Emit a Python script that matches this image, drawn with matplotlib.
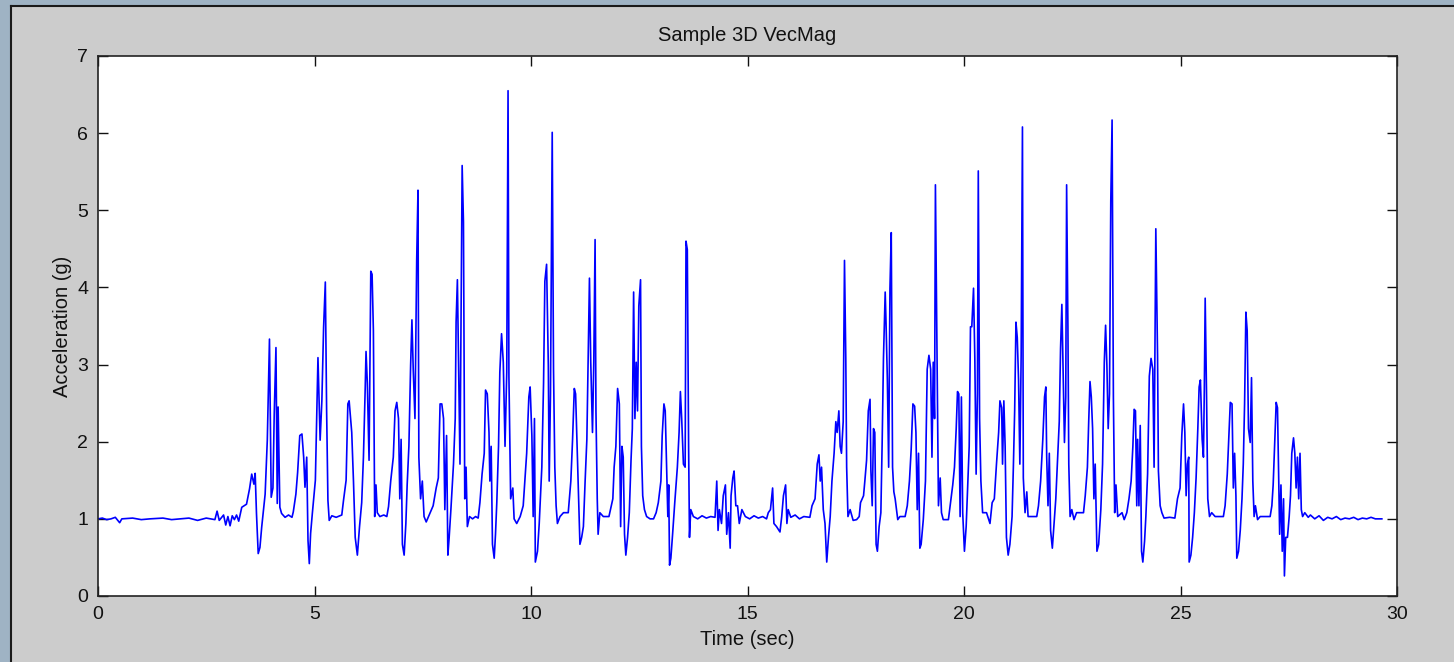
import matplotlib
matplotlib.use("Agg")
import matplotlib.pyplot as plt
from matplotlib.patches import Rectangle
from matplotlib.lines import Line2D

# ---- data ----
time_sec = [
    0.0, 0.1, 0.2, 0.3, 0.4, 0.5, 0.55, 0.8, 1.0, 1.2, 1.5, 1.7, 1.9, 2.1, 2.3, 2.5, 2.7,
    2.75, 2.8, 2.9, 2.95, 3.0, 3.05, 3.1, 3.15, 3.2, 3.25, 3.32, 3.43, 3.5, 3.55, 3.6, 3.63,
    3.66, 3.7, 3.74, 3.78, 3.86, 3.91, 3.96, 4.0, 4.04, 4.07, 4.11, 4.14, 4.16, 4.2, 4.24,
    4.32, 4.4, 4.48, 4.51, 4.57, 4.61, 4.66, 4.71, 4.75, 4.78, 4.82, 4.85, 4.88, 4.91, 4.95,
    5.02, 5.08, 5.13, 5.17, 5.21, 5.25, 5.28, 5.31, 5.34, 5.4, 5.5, 5.63, 5.67, 5.73, 5.77,
    5.8, 5.86, 5.9, 5.94, 5.99, 6.04, 6.09, 6.13, 6.17, 6.19, 6.22, 6.26, 6.3, 6.33, 6.36,
    6.39, 6.42, 6.45, 6.51, 6.6, 6.67, 6.71, 6.76, 6.82, 6.86, 6.9, 6.94, 6.97, 7.0, 7.03,
    7.07, 7.11, 7.14, 7.18, 7.22, 7.25, 7.28, 7.32, 7.36, 7.39, 7.41, 7.45, 7.49, 7.53, 7.58,
    7.67, 7.74, 7.81, 7.86, 7.9, 7.94, 7.98, 8.01, 8.05, 8.08, 8.11, 8.15, 8.21, 8.25, 8.27,
    8.3, 8.33, 8.36, 8.38, 8.41, 8.44, 8.47, 8.5, 8.53, 8.58, 8.65, 8.72, 8.78, 8.82, 8.87,
    8.92, 8.95, 8.99, 9.03, 9.05, 9.08, 9.11, 9.15, 9.18, 9.21, 9.25, 9.28, 9.32, 9.36, 9.4,
    9.44, 9.47, 9.49, 9.53, 9.58, 9.61, 9.67, 9.75, 9.82, 9.9, 9.95, 9.98, 10.02, 10.05,
    10.08, 10.1, 10.15, 10.19, 10.25, 10.29, 10.32, 10.36, 10.4, 10.42, 10.45, 10.49, 10.52,
    10.55, 10.58, 10.61, 10.67, 10.75, 10.86, 10.92, 10.96, 11.0, 11.03, 11.06, 11.09, 11.13,
    11.17, 11.21, 11.25, 11.29, 11.32, 11.35, 11.38, 11.42, 11.45, 11.48, 11.5, 11.53, 11.55,
    11.59, 11.67, 11.8, 11.89, 11.92, 11.96, 12.0, 12.04, 12.07, 12.1, 12.13, 12.16, 12.19,
    12.23, 12.27, 12.31, 12.34, 12.37, 12.4, 12.43, 12.46, 12.49, 12.53, 12.55, 12.58, 12.62,
    12.67, 12.75, 12.83, 12.89, 12.94, 13.0, 13.03, 13.07, 13.1, 13.13, 13.16, 13.18, 13.2,
    13.23, 13.27, 13.32, 13.38, 13.42, 13.45, 13.48, 13.52, 13.56, 13.58, 13.61, 13.64, 13.66,
    13.69, 13.75, 13.85, 13.95, 14.05, 14.15, 14.25, 14.29, 14.32, 14.35, 14.4, 14.44, 14.49,
    14.52, 14.56, 14.6, 14.62, 14.66, 14.69, 14.73, 14.77, 14.81, 14.87, 14.95, 15.05, 15.15,
    15.25, 15.35, 15.44, 15.48, 15.53, 15.58, 15.61, 15.67, 15.75, 15.79, 15.83, 15.88, 15.91,
    15.94, 16.0, 16.1, 16.2, 16.3, 16.44, 16.49, 16.56, 16.61, 16.65, 16.68, 16.71, 16.75,
    16.79, 16.83, 16.87, 16.91, 16.95, 17.0, 17.04, 17.07, 17.11, 17.14, 17.17, 17.21, 17.24,
    17.27, 17.29, 17.32, 17.37, 17.44, 17.52, 17.58, 17.61, 17.68, 17.71, 17.75, 17.79, 17.83,
    17.85, 17.88, 17.91, 17.94, 17.97, 18.0, 18.04, 18.08, 18.11, 18.14, 18.18, 18.2, 18.23,
    18.26, 18.29, 18.32, 18.35, 18.38, 18.41, 18.47, 18.52, 18.64, 18.69, 18.74, 18.78, 18.82,
    18.86, 18.89, 18.92, 18.95, 18.98, 19.01, 19.06, 19.11, 19.15, 19.19, 19.23, 19.26, 19.29,
    19.32, 19.34, 19.38, 19.41, 19.45, 19.48, 19.52, 19.64, 19.69, 19.74, 19.78, 19.82, 19.85,
    19.88, 19.91, 19.94, 19.97, 20.01, 20.05, 20.09, 20.12, 20.15, 20.18, 20.22, 20.25, 20.28,
    20.31, 20.33, 20.36, 20.39, 20.43, 20.52, 20.6, 20.65, 20.7, 20.75, 20.8, 20.83, 20.87,
    20.89, 20.92, 20.95, 20.98, 21.02, 21.06, 21.11, 21.14, 21.17, 21.2, 21.23, 21.26, 21.29,
    21.32, 21.35, 21.37, 21.41, 21.45, 21.48, 21.6, 21.68, 21.72, 21.77, 21.82, 21.86, 21.89,
    21.91, 21.94, 21.97, 22.0, 22.04, 22.08, 22.12, 22.17, 22.2, 22.23, 22.26, 22.29, 22.32,
    22.35, 22.37, 22.4, 22.42, 22.45, 22.49, 22.54, 22.6, 22.76, 22.8, 22.85, 22.88, 22.91,
    22.94, 22.97, 23.0, 23.03, 23.07, 23.11, 23.16, 23.2, 23.24, 23.27, 23.3, 23.33, 23.36,
    23.39, 23.42, 23.45, 23.48, 23.51, 23.55, 23.65, 23.7, 23.76, 23.81, 23.86, 23.9, 23.93,
    23.96, 23.99, 24.01, 24.04, 24.07, 24.1, 24.13, 24.17, 24.2, 24.24, 24.28, 24.32, 24.36,
    24.39, 24.41, 24.43, 24.47, 24.49, 24.53, 24.57, 24.62, 24.75, 24.87, 24.93, 24.99, 25.03,
    25.07, 25.1, 25.13, 25.16, 25.19, 25.2, 25.24, 25.28, 25.32, 25.36, 25.4, 25.43, 25.46,
    25.5, 25.53, 25.55, 25.57, 25.6, 25.63, 25.67, 25.72, 25.8, 25.99, 26.03, 26.08, 26.12,
    26.15, 26.19, 26.22, 26.25, 26.28, 26.3, 26.34, 26.38, 26.42, 26.45, 26.48, 26.51, 26.54,
    26.57, 26.61, 26.64, 26.67, 26.7, 26.73, 26.78, 26.84, 27.07, 27.11, 27.14, 27.18, 27.21,
    27.24, 27.27, 27.29, 27.32, 27.35, 27.38, 27.4, 27.43, 27.47, 27.51, 27.54, 27.57, 27.61,
    27.64, 27.67, 27.7, 27.73, 27.76, 27.79, 27.82, 27.87, 27.95, 28.0, 28.1, 28.2, 28.3,
    28.4, 28.5, 28.6, 28.7, 28.8, 28.9, 29.0, 29.1, 29.2, 29.3, 29.4, 29.5, 29.65,
]

accel_g = [
    1.0, 1.01, 0.99, 1.0, 1.02, 0.95, 1.0, 1.01, 0.99, 1.0, 1.01, 0.99, 1.0, 1.01, 0.98, 1.01, 0.99,
    1.1, 0.98, 1.05, 0.92, 1.03, 0.91, 1.04, 0.99, 1.05, 0.97, 1.15, 1.19, 1.39, 1.58, 1.45, 1.59,
    1.07, 0.55, 0.63, 0.89, 1.32, 2.02, 3.33, 1.28, 1.4, 2.36, 3.22, 1.2, 2.45, 1.15, 1.07,
    1.02, 1.05, 1.02, 1.09, 1.32, 1.6, 2.08, 2.1, 1.8, 1.41, 1.8, 0.72, 0.42, 0.81, 1.07,
    1.5, 3.09, 2.02, 2.53, 3.48, 4.07, 2.4, 1.24, 0.98, 1.04, 1.02, 1.05, 1.24, 1.5, 2.49,
    2.53, 2.12, 1.49, 0.76, 0.53, 0.9, 1.21, 1.8, 2.67, 3.17, 2.76, 1.76, 4.21, 4.17, 3.44,
    1.03, 1.44, 1.08, 1.03, 1.05, 1.03, 1.16, 1.49, 1.8, 2.4, 2.51, 2.3, 1.26, 2.03, 0.67,
    0.53, 0.94, 1.44, 1.94, 2.99, 3.58, 2.94, 2.3, 4.35, 5.26, 1.8, 1.26, 1.49, 1.03, 0.96,
    1.08, 1.17, 1.4, 1.53, 2.49, 2.49, 2.3, 1.12, 2.08, 0.53, 0.76, 1.12, 1.71, 2.3, 3.55,
    4.1, 2.94, 1.71, 3.21, 5.58, 4.85, 1.26, 1.67, 0.9, 1.03, 1.0, 1.03, 1.01, 1.21, 1.58,
    1.85, 2.67, 2.62, 2.12, 1.49, 1.94, 0.67, 0.49, 0.8, 1.21, 1.94, 2.9, 3.4, 3.03, 1.94,
    2.9, 6.55, 2.85, 1.26, 1.4, 1.0, 0.94, 1.03, 1.17, 1.85, 2.58, 2.71, 2.08, 1.03,
    2.3, 0.44, 0.58, 0.94, 1.67, 2.76, 4.08, 4.3, 2.99, 1.49, 2.62, 6.01, 2.94,
    1.67, 1.17, 0.94, 1.03, 1.08, 1.08, 1.49, 2.03, 2.69, 2.62, 2.03, 1.44, 0.67,
    0.76, 0.9, 1.49, 2.03, 3.1, 4.12, 3.03, 2.12, 3.03, 4.62, 2.4, 1.26, 0.8,
    1.08, 1.03, 1.03, 1.26, 1.67, 1.94, 2.69, 2.49, 0.9, 1.94, 1.8, 0.8, 0.53,
    0.76, 1.08, 1.76, 2.17, 3.94, 2.3, 3.03, 2.4, 3.76, 4.1, 1.94, 1.3, 1.12,
    1.03, 1.0, 1.0, 1.08, 1.21, 1.49, 2.08, 2.49, 2.4, 1.71, 1.03, 1.44, 0.4,
    0.49, 0.8, 1.21, 1.67, 2.12, 2.65, 2.3, 1.71, 1.67, 4.6, 4.49, 1.94, 0.76,
    1.12, 1.03, 1.0, 1.04, 1.01, 1.03, 1.02, 1.49, 0.85, 1.12, 0.94, 1.3, 1.44,
    0.8, 1.08, 0.62, 1.3, 1.53, 1.62, 1.17, 1.17, 0.94, 1.12, 1.03, 1.0, 1.04,
    1.01, 1.03, 1.0, 1.08, 1.12, 1.4, 0.94, 0.9, 0.83, 1.03, 1.3, 1.44, 0.94,
    1.12, 1.02, 1.05, 1.0, 1.03, 1.02, 1.17, 1.26, 1.71, 1.83, 1.49, 1.67, 1.12,
    0.94, 0.44, 0.76, 1.03, 1.49, 1.85, 2.26, 2.12, 2.4, 1.94, 1.85, 2.26, 4.35,
    3.08, 1.67, 1.03, 1.12, 0.98, 0.99, 1.03, 1.21, 1.3, 1.49, 1.76, 2.4, 2.55,
    1.62, 1.17, 2.17, 2.12, 0.67, 0.58, 0.9, 1.08, 1.99, 3.08, 3.94, 3.53, 2.8,
    1.67, 3.99, 4.71, 1.67, 1.35, 1.26, 0.99, 1.03, 1.03, 1.17, 1.49, 1.9, 2.49,
    2.46, 2.12, 1.12, 1.85, 0.62, 0.67, 0.99, 1.49, 2.94, 3.12, 2.94, 1.8, 3.03,
    2.3, 5.33, 3.03, 1.17, 1.53, 1.08, 0.99, 0.99, 1.21, 1.44, 1.67, 2.17, 2.65,
    2.62, 1.03, 2.58, 1.08, 0.58, 0.9, 1.49, 1.94, 3.49, 3.49, 3.99, 3.08, 1.58,
    2.62, 5.51, 2.3, 1.49, 1.08, 1.08, 0.94, 1.21, 1.26, 1.71, 2.12, 2.53, 2.44,
    1.71, 2.53, 1.94, 0.76, 0.53, 0.67, 1.03, 1.67, 2.4, 3.55, 3.35, 2.8, 1.71,
    3.12, 6.08, 1.53, 1.08, 1.35, 1.03, 1.03, 1.03, 1.17, 1.49, 2.03, 2.58, 2.71,
    1.8, 1.17, 1.85, 0.85, 0.62, 0.94, 1.26, 1.9, 2.26, 3.21, 3.78, 2.85, 1.99,
    2.58, 5.33, 3.49, 1.71, 1.03, 1.12, 0.99, 1.08, 1.08, 1.3, 1.67, 2.26, 2.78,
    2.58, 2.17, 1.26, 1.71, 0.58, 0.67, 1.12, 1.71, 3.03, 3.51, 2.99, 2.17, 2.62,
    5.12, 6.17, 2.58, 1.08, 1.44, 1.03, 1.08, 0.99, 1.08, 1.26, 1.49, 1.94, 2.42,
    2.4, 1.17, 2.03, 1.17, 2.21, 0.58, 0.44, 0.71, 1.03, 1.58, 2.85, 3.08, 2.94,
    1.67, 3.21, 4.76, 3.12, 1.62, 1.17, 1.08, 1.01, 1.02, 1.01, 1.26, 1.4, 2.08,
    2.49, 2.12, 1.3, 1.71, 1.8, 0.44, 0.53, 0.76, 1.08, 1.53, 2.17, 2.71, 2.8,
    2.03, 1.8, 2.67, 3.86, 2.67, 1.26, 1.03, 1.08, 1.03, 1.03, 1.17, 1.58, 2.12,
    2.51, 2.49, 1.4, 1.85, 1.3, 0.49, 0.58, 0.85, 1.26, 1.71, 2.49, 3.68, 3.44,
    2.17, 1.99, 2.83, 1.49, 1.03, 1.17, 0.99, 1.03, 1.03, 1.17, 1.44, 2.03, 2.51,
    2.44, 1.49, 0.8, 1.44, 0.58, 1.26, 0.26, 0.76, 0.76, 1.03, 1.3, 1.85, 2.05,
    1.85, 1.4, 1.8, 1.26, 1.85, 1.12, 1.03, 1.08, 1.02, 1.05, 1.0, 1.04, 0.98,
    1.02, 1.0, 1.03, 0.99, 1.01, 1.0, 1.02, 0.99, 1.01, 1.0, 1.02, 1.0, 1.0,
]

x_ticks = [0, 5, 10, 15, 20, 25, 30]
y_ticks = [0, 1, 2, 3, 4, 5, 6, 7]
title_text = "Sample 3D VecMag"
x_label = "Time (sec)"
y_label = "Acceleration (g)"

# ---- figure ----
W, H = 1454, 662
fig = plt.figure(figsize=(W / 100, H / 100), dpi=100)
fig.patch.set_facecolor("#9fb3c4")

# grey MATLAB-like window panel
fig.add_artist(Rectangle((11 / W, 0), 1 - 11 / W, 1 - 6 / H, transform=fig.transFigure,
                         facecolor="#cccccc", edgecolor="none", zorder=0))
fig.add_artist(Line2D([10.5 / W, 10.5 / W], [0, 1 - 5.5 / H], transform=fig.transFigure,
                      color="#1a1a1a", lw=1.5, zorder=1))
fig.add_artist(Line2D([10.5 / W, 1], [1 - 5.5 / H, 1 - 5.5 / H], transform=fig.transFigure,
                      color="#1a1a1a", lw=1.5, zorder=1))

ax = fig.add_axes([98 / W, (H - 596) / H, (1397 - 98) / W, (596 - 56) / H])
ax.set_facecolor("white")
ax.plot(time_sec, accel_g, color="#0000ff", lw=1.2)

ax.set_xlim(0, 30)
ax.set_ylim(0, 7)
ax.set_xticks(x_ticks)
ax.set_yticks(y_ticks)
fs = 14.5
fam = ["Liberation Sans", "DejaVu Sans"]
ax.tick_params(direction="in", length=7, width=1, top=True, right=True,
               labelsize=14, colors="#111111", pad=7)
for lab in ax.get_xticklabels() + ax.get_yticklabels():
    lab.set_family(fam)
for sp in ax.spines.values():
    sp.set_color("#222222")
    sp.set_linewidth(1.2)

ax.set_title(title_text, fontsize=fs, family=fam, color="#111111", pad=11)
ax.set_xlabel(x_label, fontsize=fs, family=fam, color="#111111", labelpad=5)
ax.set_ylabel(y_label, fontsize=fs, family=fam, color="#111111", labelpad=4)

fig.savefig("out.png", dpi=100, facecolor=fig.get_facecolor())
